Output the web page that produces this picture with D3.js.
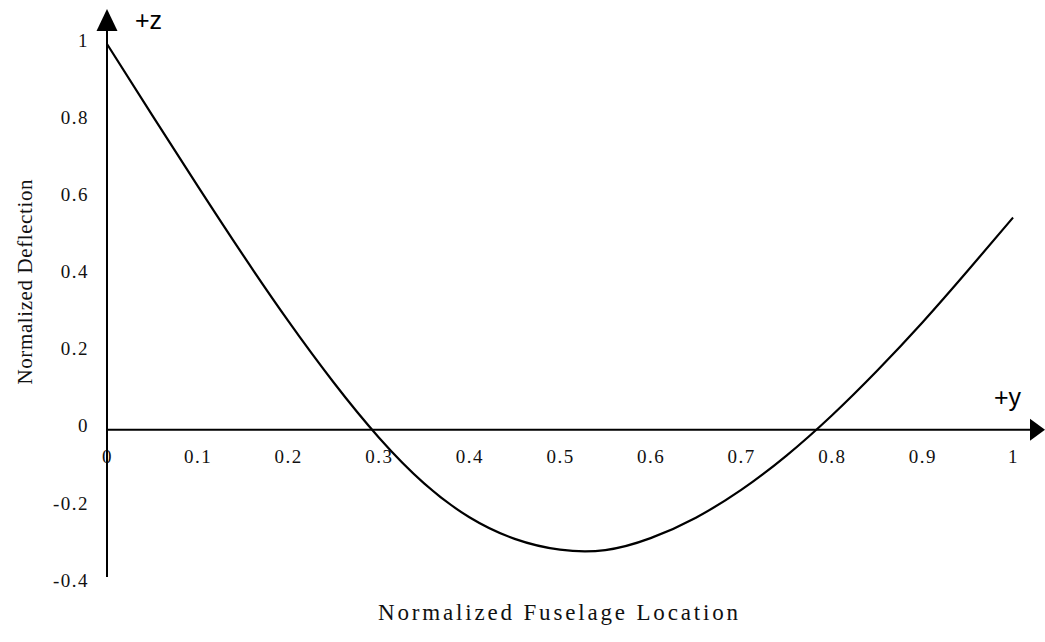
<!DOCTYPE html>
<html>
<head>
<meta charset="utf-8">
<script src="https://cdn.jsdelivr.net/npm/d3@7"></script>
<style>
  body { margin: 0; background: #fff; }
  svg { display: block; }
</style>
</head>
<body>
<div id="chart"></div>
<script>
// normalized fuselage location vs normalized deflection
const location_ = [0, 0.05, 0.1, 0.15, 0.2, 0.25, 0.3, 0.35, 0.4, 0.45, 0.5, 0.55, 0.6, 0.65, 0.7, 0.75, 0.8, 0.85, 0.9, 0.95, 1];
const deflection = [1.0, 0.815, 0.632, 0.453, 0.282, 0.123, -0.02, -0.139, -0.227, -0.283, -0.311, -0.312, -0.281, -0.228, -0.156, -0.067, 0.037, 0.153, 0.278, 0.412, 0.55];
const xTicks = [0, 0.1, 0.2, 0.3, 0.4, 0.5, 0.6, 0.7, 0.8, 0.9, 1];
const yTicks = [1, 0.8, 0.6, 0.4, 0.2, 0, -0.2, -0.4];

const width = 1045, height = 642;
const x = d3.scaleLinear().domain([0, 1]).range([107, 1013]);
const y = d3.scaleLinear().domain([-0.4, 1]).range([584, 44]);

const svg = d3.select("#chart").append("svg")
  .attr("width", width).attr("height", height);

const serif = "'Liberation Serif', 'Times New Roman', serif";
const sans = "'Liberation Sans', Arial, sans-serif";
const fmt = d => String(+d.toFixed(1));

// y tick labels (no tick marks, no domain)
const gy = svg.append("g").attr("transform", `translate(${x(0)},0)`)
  .call(d3.axisLeft(y).tickValues(yTicks).tickSize(0).tickPadding(18).tickFormat(fmt));
gy.select(".domain").remove();
gy.selectAll("text")
  .attr("dy", "0.12em")
  .style("font-family", serif).style("font-size", "19px")
  .style("letter-spacing", "1.5px").attr("fill", "#111");

// x tick labels
const gx = svg.append("g").attr("transform", `translate(0,${y(0)})`)
  .call(d3.axisBottom(x).tickValues(xTicks).tickSize(0).tickPadding(20).tickFormat(fmt));
gx.select(".domain").remove();
gx.selectAll("text")
  .style("font-family", serif).style("font-size", "19px")
  .style("letter-spacing", "1.5px").attr("fill", "#111");

// axis lines with arrow heads
const y0 = y(0), x0 = x(0);
svg.append("line").attr("x1", x0).attr("x2", x0).attr("y1", 577).attr("y2", 28)
  .attr("stroke", "#000").attr("stroke-width", 2);
svg.append("path").attr("d", `M${x0},9 L${x0 - 10.5},31 L${x0 + 10.5},31 Z`).attr("fill", "#000");
svg.append("line").attr("x1", x0).attr("x2", 1032).attr("y1", y0).attr("y2", y0)
  .attr("stroke", "#000").attr("stroke-width", 2);
svg.append("path").attr("d", `M1045,${y0} L1030,${y0 - 11} L1030,${y0 + 11} Z`).attr("fill", "#000");

// deflection curve
const line = d3.line()
  .x((d, i) => x(location_[i]))
  .y(d => y(d))
  .curve(d3.curveNatural);
svg.append("path").datum(deflection)
  .attr("d", line)
  .attr("fill", "none").attr("stroke", "#000").attr("stroke-width", 2.2);

// axis direction labels
svg.append("text").attr("x", 135).attr("y", 29).text("+z")
  .style("font-family", sans).style("font-size", "25px");
svg.append("text").attr("x", 994).attr("y", 406).text("+y")
  .style("font-family", sans).style("font-size", "25px");

// axis titles
svg.append("text").attr("x", 558).attr("y", 620).attr("text-anchor", "middle")
  .attr("textLength", 360).attr("lengthAdjust", "spacing")
  .style("font-family", serif).style("font-size", "23px").attr("fill", "#111")
  .text("Normalized Fuselage Location");
svg.append("text").attr("transform", "translate(32,282) rotate(-90)").attr("text-anchor", "middle")
  .attr("textLength", 205).attr("lengthAdjust", "spacing")
  .style("font-family", serif).style("font-size", "21px").attr("fill", "#111")
  .text("Normalized Deflection");
</script>
</body>
</html>
